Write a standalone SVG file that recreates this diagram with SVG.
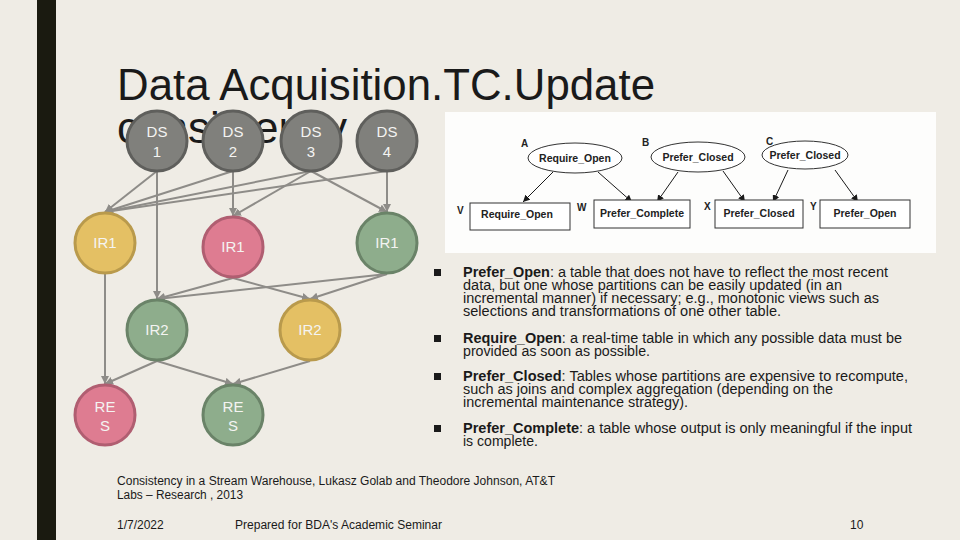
<svg xmlns="http://www.w3.org/2000/svg" width="960" height="540" viewBox="0 0 960 540">
<defs>
<style>
.bg{fill:#efece5}
.title{font-family:"Liberation Sans",Arial,sans-serif;font-size:44px;fill:#1a1a1a}
.nt{font-family:"Liberation Sans",Arial,sans-serif;font-size:15px;fill:#f4f4f2;text-anchor:middle}
.ds{fill:#80807c;stroke:#5f5f5c;stroke-width:3}
.yel{fill:#e4c064;stroke:#b99a4c;stroke-width:3}
.pink{fill:#de7c91;stroke:#b05e71;stroke-width:3}
.grn{fill:#8ead8c;stroke:#6a8368;stroke-width:3}
.con line{stroke:#8e8c88;stroke-width:2;fill:none}
.pcon line{stroke:#1a1a1a;stroke-width:1;fill:none}
.pt{font-family:"Liberation Sans",Arial,sans-serif;font-size:10.5px;font-weight:bold;fill:#222;text-anchor:middle}
.pl{font-family:"Liberation Sans",Arial,sans-serif;font-size:10px;font-weight:bold;fill:#222}
.pshape{fill:#fff;stroke:#333;stroke-width:1}
.bt{font-family:"Liberation Sans",Arial,sans-serif;font-size:14px;fill:#1a1a1a}
.bt tspan.b{font-weight:bold}
.cap{font-family:"Liberation Sans",Arial,sans-serif;font-size:12px;fill:#1a1a1a}
</style>
<marker id="ga" viewBox="0 0 10 10" refX="10" refY="5" markerWidth="8" markerHeight="8" markerUnits="userSpaceOnUse" orient="auto"><path d="M0,0 L10,5 L0,10 z" fill="#8e8c88"/></marker>
<marker id="ba" viewBox="0 0 10 10" refX="10" refY="5" markerWidth="7" markerHeight="7" markerUnits="userSpaceOnUse" orient="auto"><path d="M0,0 L10,5 L0,10 z" fill="#1a1a1a"/></marker>
</defs>
<rect class="bg" x="0" y="0" width="960" height="540"/>
<rect x="37" y="0" width="19" height="540" fill="#1a1a10"/>

<text class="title" x="117" y="100" textLength="538" lengthAdjust="spacingAndGlyphs">Data Acquisition.TC.Update</text>
<text class="title" x="117" y="143">consistency</text>

<g id="connectors" class="con">
<line x1="157" y1="171" x2="105" y2="212" marker-end="url(#ga)"/>
<line x1="157" y1="171" x2="157" y2="299" marker-end="url(#ga)"/>
<line x1="233" y1="171" x2="105" y2="212" marker-end="url(#ga)"/>
<line x1="233" y1="171" x2="233" y2="216" marker-end="url(#ga)"/>
<line x1="311" y1="171" x2="105" y2="212" marker-end="url(#ga)"/>
<line x1="311" y1="171" x2="233" y2="216" marker-end="url(#ga)"/>
<line x1="311" y1="171" x2="387" y2="212" marker-end="url(#ga)"/>
<line x1="387" y1="171" x2="105" y2="212" marker-end="url(#ga)"/>
<line x1="387" y1="171" x2="387" y2="212" marker-end="url(#ga)"/>
<line x1="105" y1="274" x2="105" y2="384" marker-end="url(#ga)"/>
<line x1="233" y1="278" x2="157" y2="299" marker-end="url(#ga)"/>
<line x1="233" y1="278" x2="310" y2="299" marker-end="url(#ga)"/>
<line x1="387" y1="274" x2="157" y2="299" marker-end="url(#ga)"/>
<line x1="387" y1="274" x2="310" y2="299" marker-end="url(#ga)"/>
<line x1="157" y1="361" x2="105" y2="384" marker-end="url(#ga)"/>
<line x1="157" y1="361" x2="233" y2="384" marker-end="url(#ga)"/>
<line x1="310" y1="361" x2="233" y2="384" marker-end="url(#ga)"/>
</g>

<g id="ds1"><circle class="ds" cx="157" cy="141" r="30"/><text class="nt" x="157" y="137">DS</text><text class="nt" x="157" y="157">1</text></g>
<g id="ds2"><circle class="ds" cx="233" cy="141" r="30"/><text class="nt" x="233" y="137">DS</text><text class="nt" x="233" y="157">2</text></g>
<g id="ds3"><circle class="ds" cx="311" cy="141" r="30"/><text class="nt" x="311" y="137">DS</text><text class="nt" x="311" y="157">3</text></g>
<g id="ds4"><circle class="ds" cx="387" cy="141" r="30"/><text class="nt" x="387" y="137">DS</text><text class="nt" x="387" y="157">4</text></g>
<g id="ir1a"><circle class="yel" cx="105" cy="243" r="30"/><text class="nt" x="105" y="248">IR1</text></g>
<g id="ir1b"><circle class="pink" cx="233" cy="247" r="30"/><text class="nt" x="233" y="252">IR1</text></g>
<g id="ir1c"><circle class="grn" cx="387" cy="243" r="30"/><text class="nt" x="387" y="248">IR1</text></g>
<g id="ir2a"><circle class="grn" cx="157" cy="330" r="30"/><text class="nt" x="157" y="335">IR2</text></g>
<g id="ir2b"><circle class="yel" cx="310" cy="330" r="30"/><text class="nt" x="310" y="335">IR2</text></g>
<g id="resa"><circle class="pink" cx="105" cy="415" r="30"/><text class="nt" x="105" y="412">RE</text><text class="nt" x="105" y="431">S</text></g>
<g id="resb"><circle class="grn" cx="233" cy="415" r="30"/><text class="nt" x="233" y="412">RE</text><text class="nt" x="233" y="431">S</text></g>

<rect x="445" y="112" width="491" height="141" fill="#fdfdfc"/>
<g id="pic-connectors" class="pcon">
<line x1="553" y1="172" x2="523" y2="202" marker-end="url(#ba)"/>
<line x1="598" y1="172" x2="632" y2="202" marker-end="url(#ba)"/>
<line x1="678" y1="172" x2="657" y2="202" marker-end="url(#ba)"/>
<line x1="723" y1="171" x2="745" y2="202" marker-end="url(#ba)"/>
<line x1="788" y1="170" x2="773" y2="202" marker-end="url(#ba)"/>
<line x1="835" y1="170" x2="858" y2="202" marker-end="url(#ba)"/>
</g>
<g id="pA"><ellipse class="pshape" cx="575" cy="158" rx="47" ry="15"/><text class="pt" x="575" y="162">Require_Open</text><text class="pl" x="521" y="147">A</text></g>
<g id="pB"><ellipse class="pshape" cx="698" cy="157" rx="47" ry="15"/><text class="pt" x="698" y="161">Prefer_Closed</text><text class="pl" x="642" y="146">B</text></g>
<g id="pC"><ellipse class="pshape" cx="805" cy="155" rx="43" ry="14"/><text class="pt" x="805" y="159">Prefer_Closed</text><text class="pl" x="766" y="145">C</text></g>
<g id="pV"><rect class="pshape" x="470" y="203" width="100" height="27"/><text class="pt" x="517" y="218">Require_Open</text><text class="pl" x="457" y="214">V</text></g>
<g id="pW"><rect class="pshape" x="594" y="200" width="96" height="28"/><text class="pt" x="642" y="217">Prefer_Complete</text><text class="pl" x="577" y="211">W</text></g>
<g id="pX"><rect class="pshape" x="715" y="200" width="88" height="28"/><text class="pt" x="759" y="217">Prefer_Closed</text><text class="pl" x="704" y="210">X</text></g>
<g id="pY"><rect class="pshape" x="820" y="200" width="90" height="28"/><text class="pt" x="865" y="217">Prefer_Open</text><text class="pl" x="810" y="210">Y</text></g>

<g id="bullets">
<rect x="434" y="269" width="7" height="7" fill="#1a1a1a"/>
<rect x="434" y="335" width="7" height="7" fill="#1a1a1a"/>
<rect x="434" y="373" width="7" height="7" fill="#1a1a1a"/>
<rect x="434" y="425" width="7" height="7" fill="#1a1a1a"/>
<text class="bt" x="463" y="277" textLength="425" lengthAdjust="spacingAndGlyphs"><tspan class="b">Prefer_Open</tspan>: a table that does not have to reflect the most recent</text>
<text class="bt" x="463" y="290" textLength="379" lengthAdjust="spacingAndGlyphs">data, but one whose partitions can be easily updated (in an</text>
<text class="bt" x="463" y="303" textLength="416" lengthAdjust="spacingAndGlyphs">incremental manner) if necessary; e.g., monotonic views such as</text>
<text class="bt" x="463" y="316" textLength="318" lengthAdjust="spacingAndGlyphs">selections and transformations of one other table.</text>
<text class="bt" x="463" y="343" textLength="439" lengthAdjust="spacingAndGlyphs"><tspan class="b">Require_Open</tspan>: a real-time table in which any possible data must be</text>
<text class="bt" x="463" y="356" textLength="187" lengthAdjust="spacingAndGlyphs">provided as soon as possible.</text>
<text class="bt" x="463" y="381" textLength="445" lengthAdjust="spacingAndGlyphs"><tspan class="b">Prefer_Closed</tspan>: Tables whose partitions are expensive to recompute,</text>
<text class="bt" x="463" y="394" textLength="370" lengthAdjust="spacingAndGlyphs">such as joins and complex aggregation (depending on the</text>
<text class="bt" x="463" y="407" textLength="225" lengthAdjust="spacingAndGlyphs">incremental maintenance strategy).</text>
<text class="bt" x="463" y="433" textLength="449" lengthAdjust="spacingAndGlyphs"><tspan class="b">Prefer_Complete</tspan>: a table whose output is only meaningful if the input</text>
<text class="bt" x="463" y="446" textLength="75" lengthAdjust="spacingAndGlyphs">is complete.</text>
</g>

<text class="cap" x="117" y="485" textLength="438" lengthAdjust="spacingAndGlyphs">Consistency in a Stream Warehouse, Lukasz Golab and Theodore Johnson, AT&amp;T</text>
<text class="cap" x="117" y="499" textLength="126" lengthAdjust="spacingAndGlyphs">Labs – Research , 2013</text>
<text class="cap" x="117" y="529">1/7/2022</text>
<text class="cap" x="235" y="529" textLength="207" lengthAdjust="spacingAndGlyphs">Prepared for BDA's Academic Seminar</text>
<text class="cap" x="850" y="529">10</text>
</svg>
